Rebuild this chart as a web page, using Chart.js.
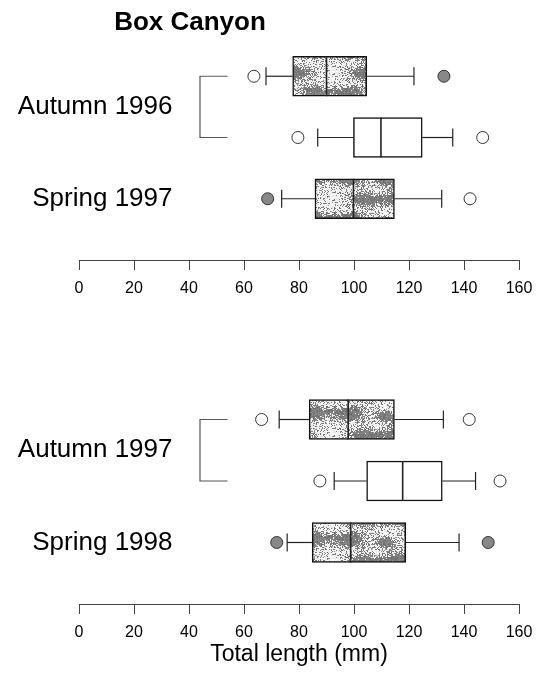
<!DOCTYPE html>
<html>
<head>
<meta charset="utf-8">
<script src="https://cdn.jsdelivr.net/npm/chart.js@4/dist/chart.umd.min.js"></script>
<style>
  body { margin: 0; background: #fff; width: 543px; height: 677px; position: relative; overflow: hidden; }
  canvas { position: absolute; left: 0; }
  #panelTop { top: 0; }
  #panelBottom { top: 320px; }
</style>
</head>
<body>
<canvas id="panelTop" width="543" height="310"></canvas>
<canvas id="panelBottom" width="543" height="357"></canvas>
<script>
// ---- data (total length, mm) ----
const xTicks = [0, 20, 40, 60, 80, 100, 120, 140, 160];

// top panel: Autumn 1996 (two boxes) and Spring 1997
const rowsTop = ["Autumn 1996 (a)", "Autumn 1996 (b)", "Spring 1997"];
const lowOutTop   = [63.6, 79.6, 68.6];
const whiskLoTop  = [68.0, 86.8, 73.7];
const q1Top       = [77.7, 99.8, 85.8];
const medianTop   = [90.0, 109.8, 99.8];
const q3Top       = [104.6, 124.8, 114.7];
const whiskHiTop  = [121.8, 135.9, 131.9];
const highOutTop  = [132.7, 146.8, 142.2];

// bottom panel: Autumn 1997 (two boxes) and Spring 1998
const rowsBottom = ["Autumn 1997 (a)", "Autumn 1997 (b)", "Spring 1998"];
const lowOutBottom   = [66.4, 87.6, 71.9];
const whiskLoBottom  = [72.8, 92.8, 75.7];
const q1Bottom       = [83.7, 104.6, 84.8];
const medianBottom   = [97.9, 117.7, 98.8];
const q3Bottom       = [114.7, 132.1, 118.8];
const whiskHiBottom  = [132.5, 144.2, 138.2];
const highOutBottom  = [141.9, 153.1, 148.8];

// ---- styling ----
const FONT = '"Liberation Sans", Arial, sans-serif';
const shadedRows = [true, false, true];
const lowOutFilled = { top: [false, false, true], bottom: [false, false, true] };
const highOutFilled = { top: [true, false, false], bottom: [false, false, true] };

// mottled grey texture for the shaded boxes
function makeTexture() {
  const w = 110, h = 42;
  const c = document.createElement("canvas");
  c.width = w; c.height = h;
  const g = c.getContext("2d");
  const img = g.createImageData(w, h);
  let s = 12345;
  const rnd = () => { s = (s * 1103515245 + 12345) & 0x7fffffff; return s / 0x7fffffff; };
  const blobs = [[18, 9, 16, 7], [70, 30, 18, 7], [95, 8, 12, 6], [35, 31, 14, 6], [55, 12, 9, 5]];
  for (let yy = 0; yy < h; yy++) {
    for (let xx = 0; xx < w; xx++) {
      let v = 0;
      blobs.forEach(([bx, by, rx, ry]) => {
        for (const ox of [-w, 0, w]) for (const oy of [-h, 0, h]) {
          const dx = (xx - bx - ox) / rx, dy = (yy - by - oy) / ry;
          v += Math.exp(-(dx * dx + dy * dy));
        }
      });
      const p = 0.18 + 0.8 * Math.min(1, v * 1.6);
      const dark = rnd() < p;
      const col = dark ? 105 + Math.floor(rnd() * 40) : 230 + Math.floor(rnd() * 25);
      const i = (yy * w + xx) * 4;
      img.data[i] = img.data[i + 1] = img.data[i + 2] = col;
      img.data[i + 3] = 255;
    }
  }
  g.putImageData(img, 0, 0);
  return g.createPattern(c, "repeat");
}
const texture = makeTexture();

function makePanel(canvasId, key, rows, lo, wl, q1, med, q3, wh, hi, groupLabels, layoutTop, axisHeight, showTitle) {
  const yLabels = ["", ...rows, " "];
  const boxData = [null, ...rows.map((r, i) => [q1[i], q3[i]]), null];
  const boxFill = [null, ...rows.map((r, i) => shadedRows[i] ? texture : "#fff"), null];

  const outPoints = [];
  const outFill = [];
  rows.forEach((r, i) => {
    outPoints.push({ x: lo[i], y: r });
    outFill.push(lowOutFilled[key][i] ? "#888" : "#fff");
    outPoints.push({ x: hi[i], y: r });
    outFill.push(highOutFilled[key][i] ? "#888" : "#fff");
  });

  const boxParts = {
    id: "boxParts_" + key,
    afterDatasetsDraw(chart) {
      const { ctx, scales: { x, y } } = chart;
      ctx.save();
      ctx.strokeStyle = "#222";
      ctx.lineWidth = 1.2;
      const line = (x1, y1, x2, y2) => { ctx.beginPath(); ctx.moveTo(x1, y1); ctx.lineTo(x2, y2); ctx.stroke(); };
      rows.forEach((r, i) => {
        const py = y.getPixelForValue(i + 1);
        // whiskers and caps
        line(x.getPixelForValue(wl[i]), py, x.getPixelForValue(q1[i]), py);
        line(x.getPixelForValue(q3[i]), py, x.getPixelForValue(wh[i]), py);
        line(x.getPixelForValue(wl[i]), py - 9, x.getPixelForValue(wl[i]), py + 9);
        line(x.getPixelForValue(wh[i]), py - 9, x.getPixelForValue(wh[i]), py + 9);
        // median
        ctx.lineWidth = 1.6;
        line(x.getPixelForValue(med[i]), py - 20, x.getPixelForValue(med[i]), py + 20);
        ctx.lineWidth = 1.2;
      });
      // bracket joining the two autumn boxes
      ctx.strokeStyle = "#555";
      const bx = x.getPixelForValue(44), ex = x.getPixelForValue(54);
      const y1 = y.getPixelForValue(1), y2 = y.getPixelForValue(2);
      ctx.beginPath();
      ctx.moveTo(ex, y1); ctx.lineTo(bx, y1); ctx.lineTo(bx, y2); ctx.lineTo(ex, y2);
      ctx.stroke();
      // group labels
      ctx.fillStyle = "#000";
      ctx.font = "26px " + FONT;
      ctx.textAlign = "right";
      ctx.textBaseline = "middle";
      ctx.fillText(groupLabels[0], x.getPixelForValue(34), y.getPixelForValue(1.5));
      ctx.fillText(groupLabels[1], x.getPixelForValue(34), y.getPixelForValue(3));
      if (showTitle) {
        ctx.font = "bold 26px " + FONT;
        ctx.textAlign = "center";
        ctx.fillText("Box Canyon", 190, 23);
      }
      ctx.restore();
    }
  };

  return new Chart(document.getElementById(canvasId), {
    type: "bar",
    data: {
      labels: yLabels,
      datasets: [
        {
          type: "scatter",
          data: outPoints,
          pointRadius: 6,
          pointBackgroundColor: outFill,
          pointBorderColor: "#333",
          pointBorderWidth: 1,
          order: 0
        },
        {
          data: boxData,
          backgroundColor: boxFill,
          borderColor: "#111",
          borderWidth: 1.5,
          borderSkipped: false,
          barThickness: 40,
          order: 1
        }
      ]
    },
    options: {
      indexAxis: "y",
      responsive: false,
      animation: false,
      layout: { padding: { top: layoutTop, left: 79, right: 24, bottom: 0 } },
      plugins: { legend: { display: false }, tooltip: { enabled: false } },
      scales: {
        y: { type: "category", display: false, offset: false },
        x: {
          type: "linear",
          position: "bottom",
          min: 0,
          max: 160,
          afterBuildTicks: s => { s.ticks = xTicks.map(v => ({ value: v })); },
          afterFit: s => { s.height = axisHeight; },
          ticks: { color: "#000", font: { family: FONT, size: 16 }, padding: 9, maxRotation: 0, autoSkip: false },
          grid: { drawOnChartArea: false, drawTicks: true, tickLength: 10, color: "#444", lineWidth: 1 },
          border: { display: true, color: "#444", width: 1 },
          title: {
            display: !showTitle,
            text: "Total length (mm)",
            color: "#000",
            font: { family: FONT, size: 23 },
            padding: { top: 4, bottom: 9 }
          }
        }
      }
    },
    plugins: [boxParts]
  });
}

makePanel("panelTop", "top", rowsTop, lowOutTop, whiskLoTop, q1Top, medianTop, q3Top, whiskHiTop, highOutTop,
  ["Autumn 1996", "Spring 1997"], 15, 50, true);
makePanel("panelBottom", "bottom", rowsBottom, lowOutBottom, whiskLoBottom, q1Bottom, medianBottom, q3Bottom, whiskHiBottom, highOutBottom,
  ["Autumn 1997", "Spring 1998"], 38, 73, false);
</script>
</body>
</html>
